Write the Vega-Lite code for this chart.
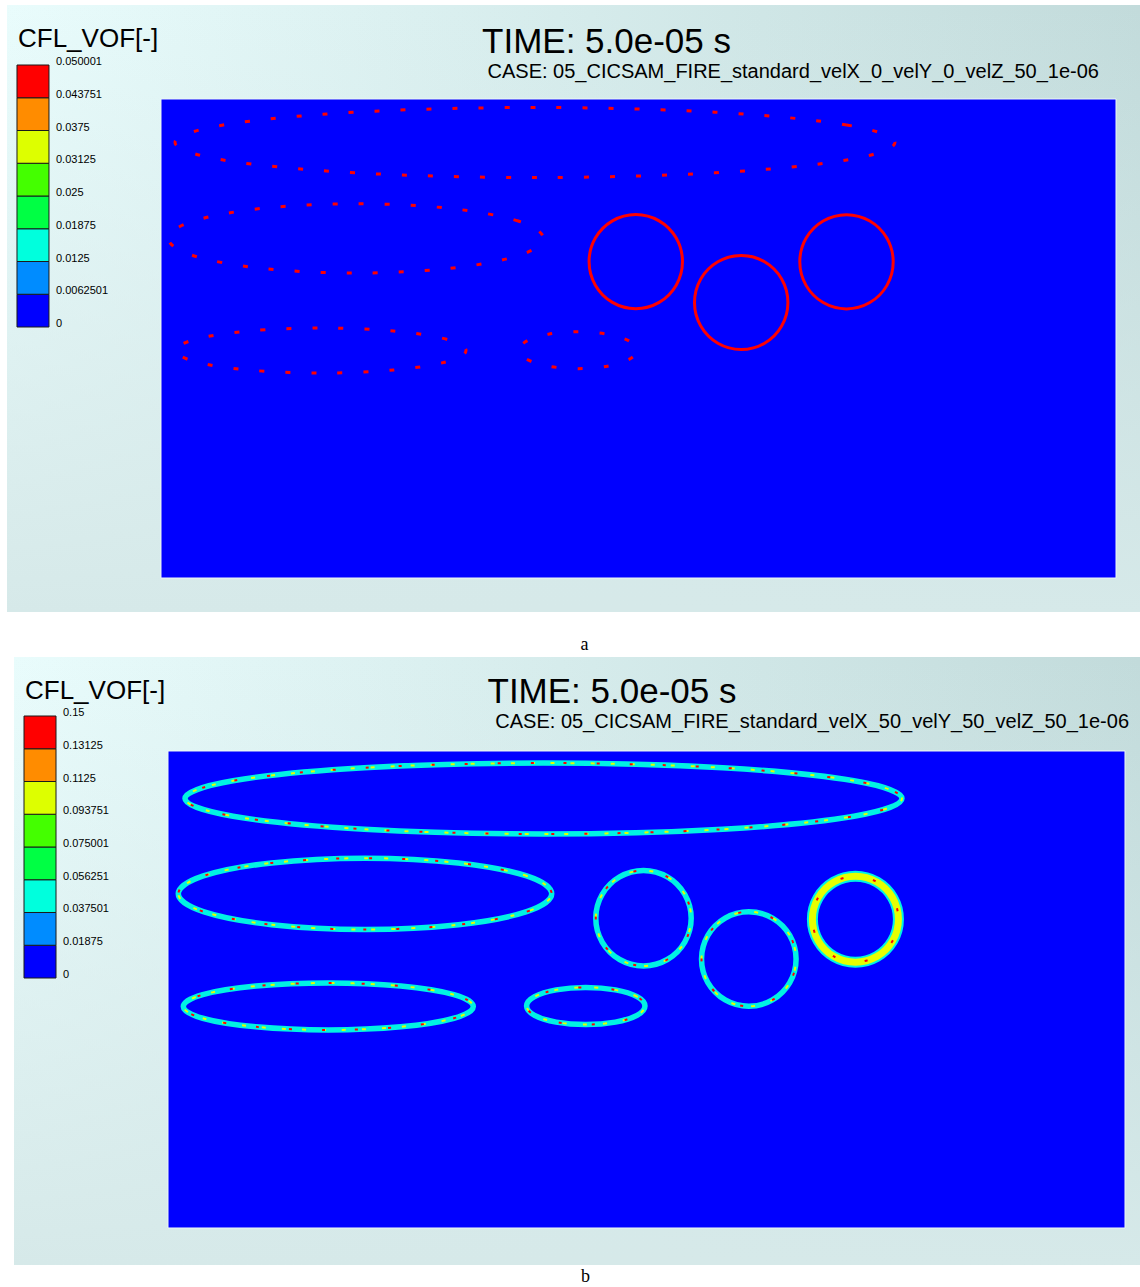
{
  "$schema": "https://vega.github.io/schema/vega-lite/v6.json",
  "background": "white",
  "padding": {"left": 7, "top": 5, "right": 0, "bottom": 0},
  "spacing": 3,
  "config": {
    "view": {"stroke": null},
    "axis": {"disable": true},
    "legend": {"disable": true},
    "text": {"font": "Liberation Sans", "color": "black"}
  },
  "resolve": {"scale": {"fill": "independent", "color": "independent"}},
  "datasets": {
    "topShapes": [
      {"s":"E1","i":0,"x":1.5371,"y":0.9092},{"s":"E1","i":1,"x":1.4361,"y":0.9458},{"s":"E1","i":2,"x":1.1602,"y":0.9725},{"s":"E1","i":3,"x":0.7832,"y":0.9823},{"s":"E1","i":4,"x":0.4062,"y":0.9725},{"s":"E1","i":5,"x":0.1303,"y":0.9458},{"s":"E1","i":6,"x":0.0293,"y":0.9092},{"s":"E1","i":7,"x":0.1303,"y":0.8726},{"s":"E1","i":8,"x":0.4062,"y":0.8459},{"s":"E1","i":9,"x":0.7832,"y":0.8361},{"s":"E1","i":10,"x":1.1602,"y":0.8459},{"s":"E1","i":11,"x":1.4361,"y":0.8726},
      {"s":"E2","i":0,"x":0.8007,"y":0.7090},{"s":"E2","i":1,"x":0.7481,"y":0.7452},{"s":"E2","i":2,"x":0.6044,"y":0.7717},{"s":"E2","i":3,"x":0.4080,"y":0.7814},{"s":"E2","i":4,"x":0.2116,"y":0.7717},{"s":"E2","i":5,"x":0.0679,"y":0.7452},{"s":"E2","i":6,"x":0.0153,"y":0.7090},{"s":"E2","i":7,"x":0.0679,"y":0.6728},{"s":"E2","i":8,"x":0.2116,"y":0.6463},{"s":"E2","i":9,"x":0.4080,"y":0.6366},{"s":"E2","i":10,"x":0.6044,"y":0.6463},{"s":"E2","i":11,"x":0.7481,"y":0.6728},
      {"s":"E3","i":0,"x":0.6388,"y":0.4749},{"s":"E3","i":1,"x":0.5981,"y":0.4984},{"s":"E3","i":2,"x":0.4870,"y":0.5156},{"s":"E3","i":3,"x":0.3351,"y":0.5219},{"s":"E3","i":4,"x":0.1832,"y":0.5156},{"s":"E3","i":5,"x":0.0721,"y":0.4984},{"s":"E3","i":6,"x":0.0314,"y":0.4749},{"s":"E3","i":7,"x":0.0721,"y":0.4514},{"s":"E3","i":8,"x":0.1832,"y":0.4342},{"s":"E3","i":9,"x":0.3351,"y":0.4279},{"s":"E3","i":10,"x":0.4870,"y":0.4342},{"s":"E3","i":11,"x":0.5981,"y":0.4514},
      {"s":"E4","i":0,"x":0.9969,"y":0.4756},{"s":"E4","i":1,"x":0.9803,"y":0.4949},{"s":"E4","i":2,"x":0.9351,"y":0.5090},{"s":"E4","i":3,"x":0.8733,"y":0.5142},{"s":"E4","i":4,"x":0.8115,"y":0.5090},{"s":"E4","i":5,"x":0.7663,"y":0.4949},{"s":"E4","i":6,"x":0.7497,"y":0.4756},{"s":"E4","i":7,"x":0.7663,"y":0.4563},{"s":"E4","i":8,"x":0.8115,"y":0.4422},{"s":"E4","i":9,"x":0.8733,"y":0.4370},{"s":"E4","i":10,"x":0.9351,"y":0.4422},{"s":"E4","i":11,"x":0.9803,"y":0.4563},
      {"s":"C1","i":0,"x":1.0921,"y":0.6605},{"s":"C1","i":1,"x":1.0790,"y":0.7097},{"s":"C1","i":2,"x":1.0432,"y":0.7456},{"s":"C1","i":3,"x":0.9943,"y":0.7588},{"s":"C1","i":4,"x":0.9454,"y":0.7456},{"s":"C1","i":5,"x":0.9096,"y":0.7097},{"s":"C1","i":6,"x":0.8965,"y":0.6605},{"s":"C1","i":7,"x":0.9096,"y":0.6113},{"s":"C1","i":8,"x":0.9454,"y":0.5754},{"s":"C1","i":9,"x":0.9943,"y":0.5622},{"s":"C1","i":10,"x":1.0432,"y":0.5754},{"s":"C1","i":11,"x":1.0790,"y":0.6113},
      {"s":"C2","i":0,"x":1.3129,"y":0.5752},{"s":"C2","i":1,"x":1.2998,"y":0.6244},{"s":"C2","i":2,"x":1.2640,"y":0.6603},{"s":"C2","i":3,"x":1.2151,"y":0.6735},{"s":"C2","i":4,"x":1.1662,"y":0.6603},{"s":"C2","i":5,"x":1.1304,"y":0.6244},{"s":"C2","i":6,"x":1.1173,"y":0.5752},{"s":"C2","i":7,"x":1.1304,"y":0.5260},{"s":"C2","i":8,"x":1.1662,"y":0.4901},{"s":"C2","i":9,"x":1.2151,"y":0.4769},{"s":"C2","i":10,"x":1.2640,"y":0.4901},{"s":"C2","i":11,"x":1.2998,"y":0.5260},
      {"s":"C3","i":0,"x":1.5334,"y":0.6601},{"s":"C3","i":1,"x":1.5203,"y":0.7093},{"s":"C3","i":2,"x":1.4845,"y":0.7452},{"s":"C3","i":3,"x":1.4356,"y":0.7584},{"s":"C3","i":4,"x":1.3867,"y":0.7452},{"s":"C3","i":5,"x":1.3509,"y":0.7093},{"s":"C3","i":6,"x":1.3378,"y":0.6601},{"s":"C3","i":7,"x":1.3509,"y":0.6109},{"s":"C3","i":8,"x":1.3867,"y":0.5750},{"s":"C3","i":9,"x":1.4356,"y":0.5618},{"s":"C3","i":10,"x":1.4845,"y":0.5750},{"s":"C3","i":11,"x":1.5203,"y":0.6109}
    ],
    "botShapes": [
      {"s":"E1","i":0,"x":1.5339,"y":0.9004},{"s":"E1","i":1,"x":1.4335,"y":0.9376},{"s":"E1","i":2,"x":1.1593,"y":0.9648},{"s":"E1","i":3,"x":0.7847,"y":0.9748},{"s":"E1","i":4,"x":0.4101,"y":0.9648},{"s":"E1","i":5,"x":0.1359,"y":0.9376},{"s":"E1","i":6,"x":0.0355,"y":0.9004},{"s":"E1","i":7,"x":0.1359,"y":0.8632},{"s":"E1","i":8,"x":0.4101,"y":0.8360},{"s":"E1","i":9,"x":0.7847,"y":0.8260},{"s":"E1","i":10,"x":1.1593,"y":0.8360},{"s":"E1","i":11,"x":1.4335,"y":0.8632},
      {"s":"E2","i":0,"x":0.8019,"y":0.7006},{"s":"E2","i":1,"x":0.7496,"y":0.7380},{"s":"E2","i":2,"x":0.6068,"y":0.7654},{"s":"E2","i":3,"x":0.4117,"y":0.7754},{"s":"E2","i":4,"x":0.2166,"y":0.7654},{"s":"E2","i":5,"x":0.0738,"y":0.7380},{"s":"E2","i":6,"x":0.0215,"y":0.7006},{"s":"E2","i":7,"x":0.0738,"y":0.6632},{"s":"E2","i":8,"x":0.2166,"y":0.6358},{"s":"E2","i":9,"x":0.4117,"y":0.6258},{"s":"E2","i":10,"x":0.6068,"y":0.6358},{"s":"E2","i":11,"x":0.7496,"y":0.6632},
      {"s":"E3","i":0,"x":0.6380,"y":0.4644},{"s":"E3","i":1,"x":0.5974,"y":0.4891},{"s":"E3","i":2,"x":0.4865,"y":0.5071},{"s":"E3","i":3,"x":0.3350,"y":0.5137},{"s":"E3","i":4,"x":0.1835,"y":0.5071},{"s":"E3","i":5,"x":0.0726,"y":0.4891},{"s":"E3","i":6,"x":0.0320,"y":0.4644},{"s":"E3","i":7,"x":0.0726,"y":0.4397},{"s":"E3","i":8,"x":0.1835,"y":0.4217},{"s":"E3","i":9,"x":0.3350,"y":0.4151},{"s":"E3","i":10,"x":0.4865,"y":0.4217},{"s":"E3","i":11,"x":0.5974,"y":0.4397},
      {"s":"E4","i":0,"x":0.9968,"y":0.4654},{"s":"E4","i":1,"x":0.9802,"y":0.4849},{"s":"E4","i":2,"x":0.9350,"y":0.4992},{"s":"E4","i":3,"x":0.8731,"y":0.5044},{"s":"E4","i":4,"x":0.8112,"y":0.4992},{"s":"E4","i":5,"x":0.7660,"y":0.4849},{"s":"E4","i":6,"x":0.7494,"y":0.4654},{"s":"E4","i":7,"x":0.7660,"y":0.4459},{"s":"E4","i":8,"x":0.8112,"y":0.4316},{"s":"E4","i":9,"x":0.8731,"y":0.4264},{"s":"E4","i":10,"x":0.9350,"y":0.4316},{"s":"E4","i":11,"x":0.9802,"y":0.4459},
      {"s":"C1","i":0,"x":1.0934,"y":0.6495},{"s":"C1","i":1,"x":1.0800,"y":0.6995},{"s":"C1","i":2,"x":1.0436,"y":0.7361},{"s":"C1","i":3,"x":0.9937,"y":0.7495},{"s":"C1","i":4,"x":0.9438,"y":0.7361},{"s":"C1","i":5,"x":0.9074,"y":0.6995},{"s":"C1","i":6,"x":0.8940,"y":0.6495},{"s":"C1","i":7,"x":0.9074,"y":0.5995},{"s":"C1","i":8,"x":0.9438,"y":0.5629},{"s":"C1","i":9,"x":0.9937,"y":0.5495},{"s":"C1","i":10,"x":1.0436,"y":0.5629},{"s":"C1","i":11,"x":1.0800,"y":0.5995},
      {"s":"C2","i":0,"x":1.3126,"y":0.5639},{"s":"C2","i":1,"x":1.2994,"y":0.6135},{"s":"C2","i":2,"x":1.2632,"y":0.6498},{"s":"C2","i":3,"x":1.2138,"y":0.6631},{"s":"C2","i":4,"x":1.1644,"y":0.6498},{"s":"C2","i":5,"x":1.1282,"y":0.6135},{"s":"C2","i":6,"x":1.1150,"y":0.5639},{"s":"C2","i":7,"x":1.1282,"y":0.5143},{"s":"C2","i":8,"x":1.1644,"y":0.4780},{"s":"C2","i":9,"x":1.2138,"y":0.4647},{"s":"C2","i":10,"x":1.2632,"y":0.4780},{"s":"C2","i":11,"x":1.2994,"y":0.5143},
      {"s":"C3","i":0,"x":1.5265,"y":0.6474},{"s":"C3","i":1,"x":1.5145,"y":0.6925},{"s":"C3","i":2,"x":1.4816,"y":0.7254},{"s":"C3","i":3,"x":1.4366,"y":0.7375},{"s":"C3","i":4,"x":1.3916,"y":0.7254},{"s":"C3","i":5,"x":1.3587,"y":0.6925},{"s":"C3","i":6,"x":1.3467,"y":0.6474},{"s":"C3","i":7,"x":1.3587,"y":0.6023},{"s":"C3","i":8,"x":1.3916,"y":0.5694},{"s":"C3","i":9,"x":1.4366,"y":0.5573},{"s":"C3","i":10,"x":1.4816,"y":0.5694},{"s":"C3","i":11,"x":1.5145,"y":0.6023}
    ],
    "topLegend": [
      {"lo":0,"hi":0.0062501},{"lo":0.0062501,"hi":0.0125},{"lo":0.0125,"hi":0.01875},{"lo":0.01875,"hi":0.025},
      {"lo":0.025,"hi":0.03125},{"lo":0.03125,"hi":0.0375},{"lo":0.0375,"hi":0.043751},{"lo":0.043751,"hi":0.050001}
    ],
    "topTicks": [
      {"v":0},{"v":0.0062501},{"v":0.0125},{"v":0.01875},{"v":0.025},{"v":0.03125},{"v":0.0375},{"v":0.043751},{"v":0.050001}
    ],
    "botLegend": [
      {"lo":0,"hi":0.01875},{"lo":0.01875,"hi":0.037501},{"lo":0.037501,"hi":0.056251},{"lo":0.056251,"hi":0.075001},
      {"lo":0.075001,"hi":0.093751},{"lo":0.093751,"hi":0.1125},{"lo":0.1125,"hi":0.13125},{"lo":0.13125,"hi":0.15}
    ],
    "botTicks": [
      {"v":0},{"v":0.01875},{"v":0.037501},{"v":0.056251},{"v":0.075001},{"v":0.093751},{"v":0.1125},{"v":0.13125},{"v":0.15}
    ],
    "one": [{}]
  },
  "vconcat": [
    {
      "width": 1133,
      "height": 607,
      "title": {"text": "a", "orient": "bottom", "anchor": "middle", "frame": "group", "font": "Liberation Serif", "fontSize": 18, "fontWeight": "normal", "color": "black", "offset": 24, "dx": 11},
      "resolve": {"scale": {"y": "independent"}},
      "layer": [
        {
          "layer": [
            {
              "data": {"name": "one"},
              "mark": {"type": "rect", "fill": {"gradient": "linear", "x1": 0, "y1": 0, "x2": 1, "y2": 0, "stops": [{"offset": 0, "color": "#e9fcfc"}, {"offset": 1, "color": "#c2dbdb"}]}},
              "encoding": {
                "x": {"datum": -0.32251, "type": "quantitative", "scale": {"domain": [-0.32251, 2.05026], "nice": false, "zero": false}, "axis": null},
                "x2": {"datum": 2.05026},
                "y": {"datum": -0.07098, "type": "quantitative", "scale": {"domain": [-0.07098, 1.19624], "nice": false, "zero": false}, "axis": null},
                "y2": {"datum": 1.19624}
              }
            },
            {
              "data": {"name": "one"},
              "mark": {"type": "rect", "fill": {"gradient": "linear", "x1": 0, "y1": 0, "x2": 0, "y2": 1, "stops": [{"offset": 0, "color": "rgba(214,233,233,0)"}, {"offset": 1, "color": "rgba(214,233,233,1)"}]}},
              "encoding": {
                "x": {"datum": -0.32251, "type": "quantitative"},
                "x2": {"datum": 2.05026},
                "y": {"datum": -0.07098, "type": "quantitative"},
                "y2": {"datum": 1.19624}
              }
            },
            {
              "data": {"values": [{"x0": 0, "x1": 2, "y0": 0, "y1": 1}]},
              "mark": {"type": "rect", "fill": "#0000ff", "stroke": "#eef7f7", "strokeWidth": 1},
              "encoding": {
                "x": {"field": "x0", "type": "quantitative"},
                "x2": {"field": "x1"},
                "y": {"field": "y0", "type": "quantitative"},
                "y2": {"field": "y1"}
              }
            },
            {
              "data": {"name": "topShapes"},
              "transform": [{"filter": "datum.s[0] === 'E'"}],
              "mark": {"type": "line", "interpolate": "cardinal-closed", "color": "#ff0000", "strokeWidth": 3, "strokeDash": [5, 21]},
              "encoding": {
                "x": {"field": "x", "type": "quantitative"},
                "y": {"field": "y", "type": "quantitative"},
                "detail": {"field": "s"},
                "order": {"field": "i"}
              }
            },
            {
              "data": {"name": "topShapes"},
              "transform": [{"filter": "datum.s[0] === 'C'"}],
              "mark": {"type": "line", "interpolate": "cardinal-closed", "color": "#ff0000", "strokeWidth": 3},
              "encoding": {
                "x": {"field": "x", "type": "quantitative"},
                "y": {"field": "y", "type": "quantitative"},
                "detail": {"field": "s"},
                "order": {"field": "i"}
              }
            },
            {
              "data": {"values": [{"t": "CFL_VOF[-]"}]},
              "mark": {"type": "text", "align": "left", "baseline": "alphabetic", "fontSize": 26},
              "encoding": {"x": {"datum": -0.2995, "type": "quantitative"}, "y": {"datum": 1.1086, "type": "quantitative"}, "text": {"field": "t"}}
            },
            {
              "data": {"values": [{"t": "TIME: 5.0e-05 s"}]},
              "mark": {"type": "text", "align": "center", "baseline": "alphabetic", "fontSize": 35},
              "encoding": {"x": {"datum": 0.933, "type": "quantitative"}, "y": {"datum": 1.096, "type": "quantitative"}, "text": {"field": "t"}}
            },
            {
              "data": {"values": [{"t": "CASE: 05_CICSAM_FIRE_standard_velX_0_velY_0_velZ_50_1e-06"}]},
              "mark": {"type": "text", "align": "right", "baseline": "alphabetic", "fontSize": 20},
              "encoding": {"x": {"datum": 1.9644, "type": "quantitative"}, "y": {"datum": 1.0438, "type": "quantitative"}, "text": {"field": "t"}}
            }
          ]
        },
        {
          "layer": [
            {
              "data": {"name": "topLegend"},
              "mark": {"type": "rect", "stroke": "#1a1a1a", "strokeWidth": 1},
              "encoding": {
                "x": {"datum": -0.3016, "type": "quantitative", "scale": {"domain": [-0.32251, 2.05026], "nice": false, "zero": false}, "axis": null},
                "x2": {"datum": -0.2346},
                "y": {"field": "lo", "type": "quantitative", "scale": {"domain": [-0.05439, 0.061452], "nice": false, "zero": false}, "axis": null},
                "y2": {"field": "hi"},
                "fill": {"field": "lo", "type": "quantitative", "scale": {"type": "threshold", "domain": [0.0062501, 0.0125, 0.01875, 0.025, 0.03125, 0.0375, 0.043751], "range": ["#0000ff", "#008cff", "#00ffdd", "#00ff44", "#44ff00", "#ddff00", "#ff8c00", "#ff0000"]}, "legend": null}
              }
            },
            {
              "data": {"name": "topTicks"},
              "mark": {"type": "text", "align": "left", "baseline": "middle", "fontSize": 11, "dy": -3},
              "encoding": {
                "x": {"datum": -0.2199, "type": "quantitative"},
                "y": {"field": "v", "type": "quantitative"},
                "text": {"field": "v", "type": "nominal"}
              }
            }
          ]
        }
      ]
    },
    {
      "width": 1133,
      "height": 608,
      "title": {"text": "b", "orient": "bottom", "anchor": "middle", "frame": "group", "font": "Liberation Serif", "fontSize": 18, "fontWeight": "normal", "color": "black", "offset": 3, "dx": 12},
      "resolve": {"scale": {"y": "independent"}},
      "layer": [
        {
          "layer": [
            {
              "data": {"name": "one"},
              "mark": {"type": "rect", "fill": {"gradient": "linear", "x1": 0, "y1": 0, "x2": 1, "y2": 0, "stops": [{"offset": 0, "color": "#e9fcfc"}, {"offset": 1, "color": "#c2dbdb"}]}},
              "encoding": {
                "x": {"datum": -0.32184, "type": "quantitative", "scale": {"domain": [-0.33647, 2.03135], "nice": false, "zero": false}, "axis": null},
                "x2": {"datum": 2.03135},
                "y": {"datum": -0.07757, "type": "quantitative", "scale": {"domain": [-0.07757, 1.19706], "nice": false, "zero": false}, "axis": null},
                "y2": {"datum": 1.19706}
              }
            },
            {
              "data": {"name": "one"},
              "mark": {"type": "rect", "fill": {"gradient": "linear", "x1": 0, "y1": 0, "x2": 0, "y2": 1, "stops": [{"offset": 0, "color": "rgba(214,233,233,0)"}, {"offset": 1, "color": "rgba(214,233,233,1)"}]}},
              "encoding": {
                "x": {"datum": -0.32184, "type": "quantitative"},
                "x2": {"datum": 2.03135},
                "y": {"datum": -0.07757, "type": "quantitative"},
                "y2": {"datum": 1.19706}
              }
            },
            {
              "data": {"values": [{"x0": 0, "x1": 2, "y0": 0, "y1": 1}]},
              "mark": {"type": "rect", "fill": "#0000ff", "stroke": "#eef7f7", "strokeWidth": 1},
              "encoding": {
                "x": {"field": "x0", "type": "quantitative"},
                "x2": {"field": "x1"},
                "y": {"field": "y0", "type": "quantitative"},
                "y2": {"field": "y1"}
              }
            },
            {
              "data": {"name": "botShapes"},
              "mark": {"type": "line", "interpolate": "cardinal-closed", "color": "#00f2e4", "strokeWidth": 5.5},
              "encoding": {
                "x": {"field": "x", "type": "quantitative"},
                "y": {"field": "y", "type": "quantitative"},
                "detail": {"field": "s"},
                "order": {"field": "i"}
              }
            },
            {
              "data": {"name": "botShapes"},
              "transform": [{"filter": "datum.s === 'C3'"}],
              "mark": {"type": "line", "interpolate": "cardinal-closed", "color": "#00f2e4", "strokeWidth": 11},
              "encoding": {
                "x": {"field": "x", "type": "quantitative"},
                "y": {"field": "y", "type": "quantitative"},
                "detail": {"field": "s"},
                "order": {"field": "i"}
              }
            },
            {
              "data": {"name": "botShapes"},
              "transform": [{"filter": "datum.s === 'C3'"}],
              "mark": {"type": "line", "interpolate": "cardinal-closed", "color": "#e6ff00", "strokeWidth": 7},
              "encoding": {
                "x": {"field": "x", "type": "quantitative"},
                "y": {"field": "y", "type": "quantitative"},
                "detail": {"field": "s"},
                "order": {"field": "i"}
              }
            },
            {
              "data": {"name": "botShapes"},
              "mark": {"type": "line", "interpolate": "cardinal-closed", "color": "#e6ff00", "strokeWidth": 2, "strokeDash": [4, 16]},
              "encoding": {
                "x": {"field": "x", "type": "quantitative"},
                "y": {"field": "y", "type": "quantitative"},
                "detail": {"field": "s"},
                "order": {"field": "i"}
              }
            },
            {
              "data": {"name": "botShapes"},
              "mark": {"type": "line", "interpolate": "cardinal-closed", "color": "#ff0000", "strokeWidth": 2, "strokeDash": [3, 30], "strokeDashOffset": 9},
              "encoding": {
                "x": {"field": "x", "type": "quantitative"},
                "y": {"field": "y", "type": "quantitative"},
                "detail": {"field": "s"},
                "order": {"field": "i"}
              }
            },
            {
              "data": {"values": [{"t": "CFL_VOF[-]"}]},
              "mark": {"type": "text", "align": "left", "baseline": "alphabetic", "fontSize": 26},
              "encoding": {"x": {"datum": -0.29885, "type": "quantitative"}, "y": {"datum": 1.109, "type": "quantitative"}, "text": {"field": "t"}}
            },
            {
              "data": {"values": [{"t": "TIME: 5.0e-05 s"}]},
              "mark": {"type": "text", "align": "center", "baseline": "alphabetic", "fontSize": 35},
              "encoding": {"x": {"datum": 0.9279, "type": "quantitative"}, "y": {"datum": 1.1006, "type": "quantitative"}, "text": {"field": "t"}}
            },
            {
              "data": {"values": [{"t": "CASE: 05_CICSAM_FIRE_standard_velX_50_velY_50_velZ_50_1e-06"}]},
              "mark": {"type": "text", "align": "right", "baseline": "alphabetic", "fontSize": 20},
              "encoding": {"x": {"datum": 2.0084, "type": "quantitative"}, "y": {"datum": 1.0482, "type": "quantitative"}, "text": {"field": "t"}}
            }
          ]
        },
        {
          "layer": [
            {
              "data": {"name": "botLegend"},
              "mark": {"type": "rect", "stroke": "#1a1a1a", "strokeWidth": 1},
              "encoding": {
                "x": {"datum": -0.30094, "type": "quantitative", "scale": {"domain": [-0.33647, 2.03135], "nice": false, "zero": false}, "axis": null},
                "x2": {"datum": -0.23406},
                "y": {"field": "lo", "type": "quantitative", "scale": {"domain": [-0.164313, 0.183779], "nice": false, "zero": false}, "axis": null},
                "y2": {"field": "hi"},
                "fill": {"field": "lo", "type": "quantitative", "scale": {"type": "threshold", "domain": [0.01875, 0.037501, 0.056251, 0.075001, 0.093751, 0.1125, 0.13125], "range": ["#0000ff", "#008cff", "#00ffdd", "#00ff44", "#44ff00", "#ddff00", "#ff8c00", "#ff0000"]}, "legend": null}
              }
            },
            {
              "data": {"name": "botTicks"},
              "mark": {"type": "text", "align": "left", "baseline": "middle", "fontSize": 11, "dy": -3},
              "encoding": {
                "x": {"datum": -0.21944, "type": "quantitative"},
                "y": {"field": "v", "type": "quantitative"},
                "text": {"field": "v", "type": "nominal"}
              }
            }
          ]
        }
      ]
    }
  ]
}
